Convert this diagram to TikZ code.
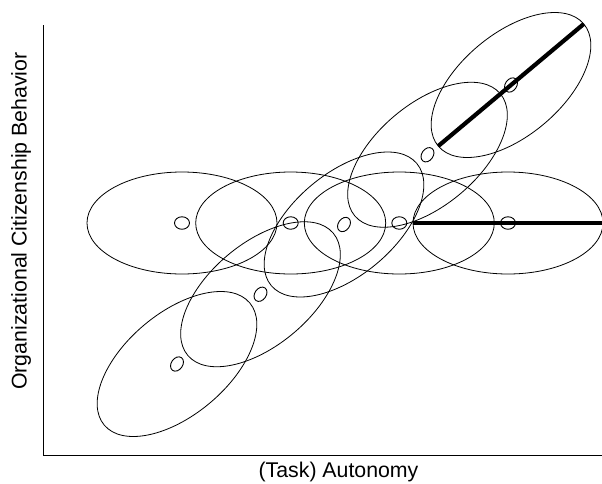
\documentclass[tikz,border=0pt]{standalone}
\usepackage{fontspec}
\setmainfont{Liberation Sans}
\usetikzlibrary{shapes.geometric}
\begin{document}
\begin{tikzpicture}[x=1pt,y=-1pt,
  cloud/.style={draw, ellipse, inner sep=0pt, outer sep=0pt, minimum width=190pt, minimum height=102pt, line width=0.8pt},
  dot/.style={draw, ellipse, inner sep=0pt, outer sep=0pt, minimum width=15pt, minimum height=12.5pt, line width=0.9pt},
  tdot/.style={dot, minimum width=15.5pt, minimum height=11.5pt, rotate=55},
  axisline/.style={line width=0.9pt},
  major/.style={line width=4.2pt},
  lab/.style={font=\fontsize{21.3}{25}\selectfont, inner sep=0pt}]
\useasboundingbox (0,0) rectangle (602,483);
% horizontal clouds
\node[cloud] (h1) at (182,223) {};
\node[cloud] (h2) at (290.7,223) {};
\node[cloud] (h3) at (399.3,223) {};
\node[cloud] (h4) at (508,223) {};
% tilted clouds
\node[cloud, rotate=40] (t1) at (177,364) {};
\node[cloud, rotate=40] (t2) at (260.5,294.25) {};
\node[cloud, rotate=40] (t3) at (344,224.5) {};
\node[cloud, rotate=40] (t4) at (427.5,154.75) {};
\node[cloud, rotate=40] (t5) at (511,85) {};
% major axes
\draw[major] (h4.west) -- (h4.east);
\draw[major] (t5.west) -- (t5.east);
% centre marks
\node[dot] (d1) at (h1) {};
\node[dot] (d2) at (h2) {};
\node[dot] (d3) at (h3) {};
\node[dot] (d4) at (h4) {};
\node[tdot] (e1) at (t1) {};
\node[tdot] (e2) at (t2) {};
\node[tdot] (e3) at (t3) {};
\node[tdot] (e4) at (t4) {};
\node[tdot] (e5) at (t5) {};
% axes
\coordinate (ytop) at (43,25);
\coordinate (orig) at (43,455);
\coordinate (xend) at (602,455);
\draw[axisline] (ytop) -- (orig) -- (xend);
% labels
\node[lab, rotate=90] (ylab) at (21,221) {Organizational Citizenship Behavior};
\node[lab, anchor=base] (xlab) at (338.5,477) {(Task) Autonomy};
\end{tikzpicture}
\end{document}
